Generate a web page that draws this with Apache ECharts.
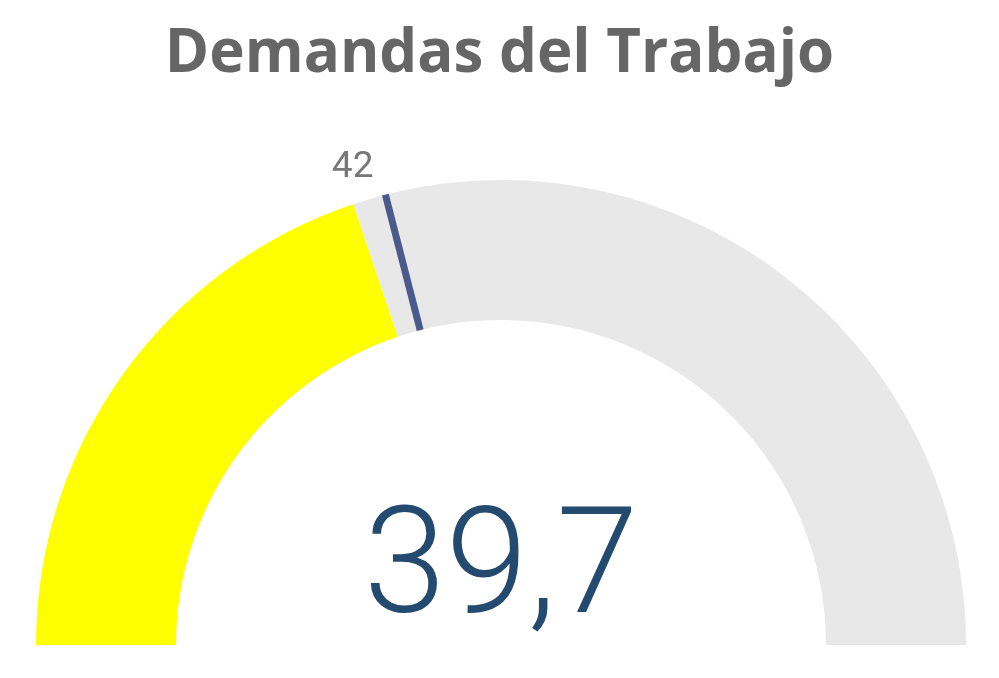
<!DOCTYPE html>
<html>
<head>
<meta charset="utf-8">
<script src="https://cdn.jsdelivr.net/npm/echarts@6/dist/echarts.min.js"></script>
<style>
  html, body { margin: 0; padding: 0; background: #fff; }
  #chart { width: 999px; height: 678px; }
</style>
</head>
<body>
<div id="chart"></div>
<script>
// datos del indicador
var titleText = "Demandas del Trabajo";
var gaugeMin = [0];
var gaugeMax = [100];
var actualValue = [39.7];
var targetValue = [42];

var chart = echarts.init(document.getElementById("chart"));

var cx = 501, cy = 645, outerR = 465, bandW = 140;
var frac = (actualValue[0] - gaugeMin[0]) / (gaugeMax[0] - gaugeMin[0]);
// posicion de la etiqueta del objetivo
var tAng = Math.PI * (1 - (targetValue[0] - gaugeMin[0]) / (gaugeMax[0] - gaugeMin[0]));
var labelR = 500;

chart.setOption({
  animation: false,
  title: {
    text: titleText,
    left: "center",
    top: 20,
    textStyle: { fontFamily: "Open Sans", fontWeight: "bold", fontSize: 60, color: "#666666" }
  },
  series: [
    {
      type: "gauge",
      center: [cx, cy],
      radius: outerR,
      startAngle: 180,
      endAngle: 0,
      min: gaugeMin[0],
      max: gaugeMax[0],
      axisLine: {
        lineStyle: { width: bandW, color: [[frac, "#FFFF00"], [1, "#E8E8E8"]] }
      },
      axisTick: { show: false },
      splitLine: { show: false },
      axisLabel: { show: false },
      pointer: { show: false },
      anchor: { show: false },
      title: { show: false },
      detail: {
        offsetCenter: [0, -70],
        fontFamily: "Roboto",
        fontWeight: 300,
        fontSize: 148,
        color: "#254A70",
        formatter: function (v) { return String(v).replace(".", ","); }
      },
      data: [{ value: actualValue[0] }]
    },
    {
      type: "gauge",
      center: [cx, cy],
      radius: outerR,
      startAngle: 180,
      endAngle: 0,
      min: gaugeMin[0],
      max: gaugeMax[0],
      axisLine: { show: false },
      axisTick: { show: false },
      splitLine: { show: false },
      axisLabel: { show: false },
      anchor: { show: false },
      pointer: {
        icon: "rect",
        width: 7,
        length: bandW,
        offsetCenter: [0, -(outerR - bandW)],
        itemStyle: { color: "#4A5A8A" }
      },
      title: {
        offsetCenter: [labelR * Math.cos(tAng) - 24, -labelR * Math.sin(tAng) + 7],
        fontFamily: "Roboto",
        fontSize: 37,
        color: "#777777"
      },
      detail: { show: false },
      data: [{ value: targetValue[0], name: String(targetValue[0]) }]
    }
  ]
});
</script>
</body>
</html>
